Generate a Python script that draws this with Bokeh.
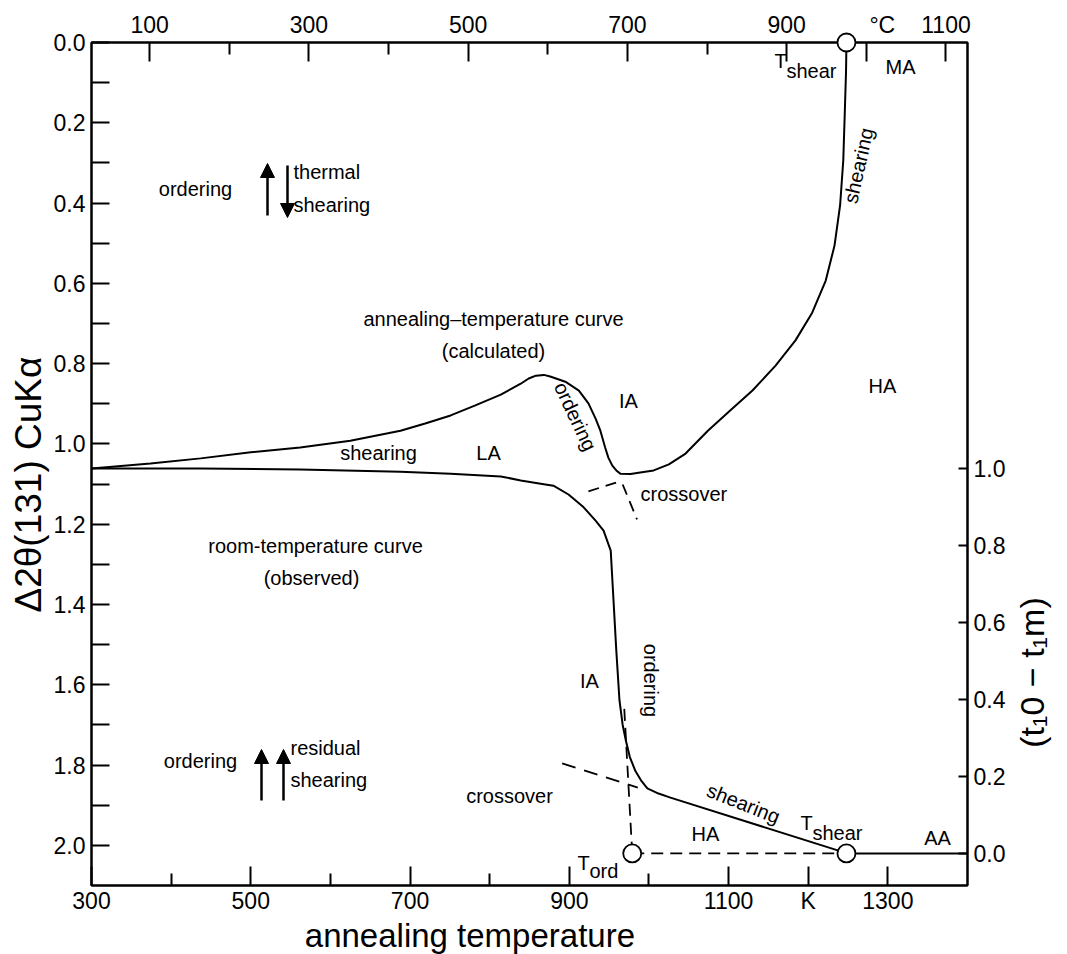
import math
from bokeh.plotting import figure
from bokeh.layouts import row
from bokeh.models import (Range1d, LinearAxis, FixedTicker, NumeralTickFormatter,
                          Label, Arrow, NormalHead)
from bokeh.embed import file_html
from bokeh.resources import INLINE

# ---------------- data ----------------
# room-temperature curve (observed): annealing temperature K -> delta 2theta(131)
room_K = [300, 437, 562, 688, 751, 814, 839, 864, 880, 899, 918, 933, 943, 952,
          955.5, 959, 963, 967, 971, 976, 983, 990, 998, 1012, 1027, 1249]
room_v = [1.061, 1.061, 1.064, 1.069, 1.074, 1.081, 1.091, 1.099, 1.104, 1.126,
          1.158, 1.191, 1.216, 1.266, 1.390, 1.515, 1.639, 1.700, 1.739, 1.780,
          1.815, 1.838, 1.858, 1.871, 1.881, 2.020]

# annealing-temperature curve (calculated)
anneal_K = [300, 374, 437, 500, 562, 625, 688, 719, 751, 782, 814, 839, 849, 858,
            868, 876, 895, 912, 924, 933, 939, 945, 949, 954, 959, 964, 977, 989,
            1006, 1025, 1046, 1074, 1102, 1130, 1159, 1184, 1205, 1222, 1233, 1240,
            1244, 1246, 1247.5, 1248]
anneal_v = [1.061, 1.049, 1.036, 1.021, 1.009, 0.992, 0.967, 0.949, 0.929, 0.904,
            0.877, 0.850, 0.837, 0.830, 0.828, 0.832, 0.845, 0.867, 0.899, 0.937,
            0.967, 1.009, 1.034, 1.054, 1.066, 1.074, 1.075, 1.071, 1.066, 1.051,
            1.024, 0.967, 0.917, 0.867, 0.805, 0.742, 0.673, 0.593, 0.506, 0.406,
            0.294, 0.169, 0.070, 0.000]

T_ord = 979          # K
T_shear = 1248       # K
base_v = 2.02        # delta 2theta at (t1o - t1m) = 0
top_v = 0.0
x_max = 1400

# crossover construction lines
cross_hi_K = [[924, 964], [967, 985]]
cross_hi_v = [[1.118, 1.093], [1.101, 1.188]]
cross_lo_K = [891, 986]
cross_lo_v = [1.796, 1.856]
ord_drop_K = [969, T_ord]
ord_drop_v = [1.66, base_v]

# axis ticks
k_major = [300, 500, 700, 900, 1100, 1200, 1300]
k_minor = [400, 600, 800, 1000]
c_major = [100, 300, 500, 700, 900, 1000, 1100]
c_minor = [200, 400, 600, 800]
d_major = [0.0, 0.2, 0.4, 0.6, 0.8, 1.0, 1.2, 1.4, 1.6, 1.8, 2.0]
d_minor = [0.1, 0.3, 0.5, 0.7, 0.9, 1.1, 1.3, 1.5, 1.7, 1.9]
t_major = [0.0, 0.2, 0.4, 0.6, 0.8, 1.0]
t_span = 0.96        # delta 2theta per unit (t1o - t1m)

FONT = "Liberation Sans"
NB = "\u00a0"
FW, FH = 876, 843
X0, X1 = 300, x_max
Y0, Y1 = 2.1, 0.0
W_MAIN = 91 + FW + 45
W_SIDE = 1067 - W_MAIN


def dx(px):
    return X0 + (px - 91) * (X1 - X0) / FW


def dy(py):
    return (py - 42) * (Y0 - Y1) / FH


p = figure(frame_width=FW, frame_height=FH,
           x_range=Range1d(X0, X1), y_range=Range1d(Y0, Y1),
           output_backend="svg", toolbar_location=None,
           x_axis_location=None, y_axis_location=None,
           min_border_left=91, min_border_right=45,
           min_border_top=42, min_border_bottom=66,
           background_fill_color="white", border_fill_color="white",
           outline_line_color="black", outline_line_width=2)
p.xgrid.visible = False
p.ygrid.visible = False

p.extra_x_ranges = {"C": Range1d(X0 - 273, X1 - 273)}
p.extra_y_ranges = {"t": Range1d((base_v - Y0) / t_span, (base_v - Y1) / t_span)}


def style(ax, tin, mtin, size="23px"):
    ax.axis_line_width = 2
    ax.axis_line_color = "black"
    ax.major_tick_in = tin
    ax.major_tick_out = 0
    ax.minor_tick_in = mtin
    ax.minor_tick_out = 0
    ax.major_tick_line_width = 2
    ax.minor_tick_line_width = 2
    ax.major_label_text_font = FONT
    ax.major_label_text_font_size = size
    ax.major_label_text_color = "black"
    ax.major_label_standoff = 6
    ax.axis_label_text_font = FONT
    ax.axis_label_text_font_style = "normal"
    ax.axis_label_text_color = "black"


bottom = LinearAxis(ticker=FixedTicker(ticks=k_major, minor_ticks=k_minor),
                    formatter=NumeralTickFormatter(format="0"),
                    major_label_overrides={1200: "K"})
style(bottom, 19, 12)
bottom.major_label_standoff = 2
bottom.axis_label = "annealing temperature" + NB * 13
bottom.axis_label_text_font_size = "33px"
bottom.axis_label_standoff = 0
p.add_layout(bottom, "below")

top = LinearAxis(x_range_name="C", ticker=FixedTicker(ticks=c_major, minor_ticks=c_minor),
                 formatter=NumeralTickFormatter(format="0"),
                 major_label_overrides={1000: NB * 5 + "\u00b0C"})
style(top, 19, 12)
top.major_label_standoff = 5
p.add_layout(top, "above")

left = LinearAxis(ticker=FixedTicker(ticks=d_major, minor_ticks=d_minor),
                  formatter=NumeralTickFormatter(format="0.0"))
style(left, 18, 18)
left.axis_label = "\u03942\u03b8(131) CuK\u03b1" + NB * 4
left.axis_label_text_font_size = "37px"
left.axis_label_standoff = 2
p.add_layout(left, "left")

right = LinearAxis(y_range_name="t", ticker=FixedTicker(ticks=t_major, minor_ticks=[]),
                   formatter=NumeralTickFormatter(format="0.0"))
style(right, 9, 0)
p.add_layout(right, "right")

# ---------------- curves ----------------
p.line(room_K, room_v, line_color="black", line_width=2)
p.line(anneal_K, anneal_v, line_color="black", line_width=2)
p.line([T_shear, x_max], [base_v, base_v], line_color="black", line_width=2)
p.line([T_ord, T_shear], [base_v, base_v], line_color="black", line_width=1.8,
       line_dash="12 7")
p.line(ord_drop_K, ord_drop_v, line_color="black", line_width=1.8, line_dash="12 7")
p.multi_line(cross_hi_K, cross_hi_v, line_color="black", line_width=1.8,
             line_dash="11 7")
p.line(cross_lo_K, cross_lo_v, line_color="black", line_width=1.8, line_dash="14 9")

p.scatter([T_ord, T_shear, T_shear], [base_v, base_v, top_v], size=18,
          fill_color="white", line_color="black", line_width=1.8, level="overlay")

# ---------------- arrows ----------------
def arrow(px, py0, py1):
    p.add_layout(Arrow(end=NormalHead(size=14, fill_color="black", line_color="black"),
                       x_start=dx(px), y_start=dy(py0), x_end=dx(px), y_end=dy(py1),
                       line_width=2.5, line_color="black"))


arrow(267, 215, 163)
arrow(287, 165, 217)
arrow(261, 800, 749)
arrow(283, 800, 749)

# ---------------- texts ----------------
def lab(text, px, py, size=20, angle=0.0, align="center"):
    p.add_layout(Label(x=dx(px), y=dy(py), text=text, text_font=FONT,
                       text_font_size=f"{size}px", text_align=align,
                       text_baseline="middle", angle=angle, text_color="black"))


lab("ordering", 195, 188)
lab("thermal", 293, 171, align="left")
lab("shearing", 293, 204, align="left")
lab("annealing\u2013temperature curve", 493, 318)
lab("(calculated)", 493, 350)
lab("shearing", 378, 452)
lab("LA", 488, 452)
lab("IA", 628, 400)
lab("ordering", 575, 416, angle=-1.13)
lab("HA", 882, 385)
lab("shearing", 858, 165, angle=1.35)
lab("crossover", 640, 493, align="left")
lab("room-temperature curve", 315, 545)
lab("(observed)", 311, 577)
lab("IA", 589, 680)
lab("ordering", 650, 680, angle=-math.pi / 2)
lab("ordering", 200, 760)
lab("residual", 290, 747, align="left")
lab("shearing", 290, 779, align="left")
lab("crossover", 509, 795)
lab("shearing", 743, 803, angle=-0.38)
lab("HA", 705, 833)
lab("AA", 937, 837)
lab("MA", 900, 66)
# subscripted temperatures
lab("T", 577, 862, align="left")
lab("ord", 589, 870, align="left")
lab("T", 800, 822, align="left")
lab("shear", 812, 832, align="left")
lab("T", 774, 60, align="left")
lab("shear", 786, 70, align="left")

# ---------------- right-hand axis title (narrow side panel) ----------------
side = figure(frame_width=W_SIDE, frame_height=954, x_range=Range1d(0, W_SIDE),
              y_range=Range1d(954, 0), output_backend="svg", toolbar_location=None,
              x_axis_location=None, y_axis_location=None, min_border=0,
              outline_line_color=None, background_fill_color="white",
              border_fill_color="white")
side.xgrid.visible = False
side.ygrid.visible = False
side.add_layout(Label(x=1031 - W_MAIN, y=630, text="(t\u20810 \u2212 t\u2081m)",
                      text_font=FONT, text_font_size="34px", text_align="center",
                      text_baseline="middle", angle=math.pi / 2, text_color="black"))

layout = row(p, side, spacing=0)
html = file_html(layout, INLINE)
open("out.html", "w").write(html)
